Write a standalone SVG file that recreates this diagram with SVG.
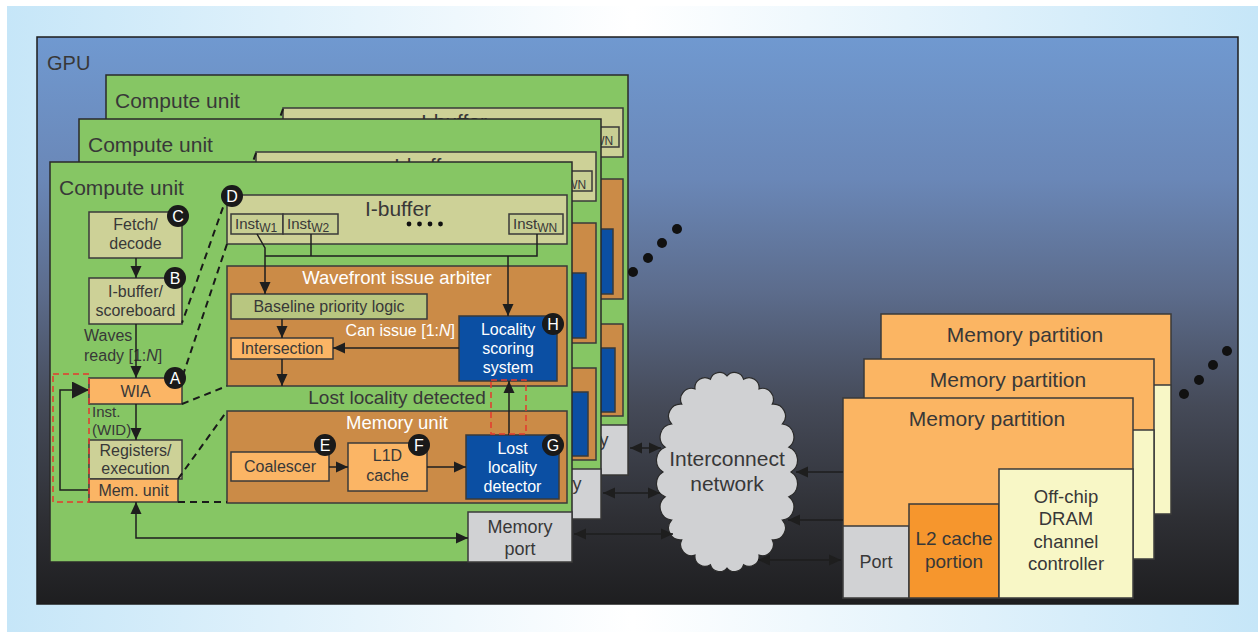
<svg xmlns="http://www.w3.org/2000/svg" xmlns:xlink="http://www.w3.org/1999/xlink" width="1258" height="632" viewBox="0 0 1258 632">
  <defs>
    <linearGradient id="panelGrad" x1="0" y1="0" x2="1" y2="0">
      <stop offset="0" stop-color="#c6e6f8"/>
      <stop offset="0.5" stop-color="#ffffff"/>
      <stop offset="1" stop-color="#c6e6f8"/>
    </linearGradient>
    <linearGradient id="gpuGrad" x1="0" y1="0" x2="0" y2="1">
      <stop offset="0" stop-color="#7099d0"/>
      <stop offset="0.25" stop-color="#6a87b7"/>
      <stop offset="0.45" stop-color="#5c6c8c"/>
      <stop offset="0.65" stop-color="#454a58"/>
      <stop offset="0.85" stop-color="#2e2f34"/>
      <stop offset="1" stop-color="#1e1e20"/>
    </linearGradient>
    <marker id="ah" viewBox="0 0 12 12" refX="12" refY="6" markerWidth="12" markerHeight="12" markerUnits="userSpaceOnUse" orient="auto-start-reverse">
      <path d="M0,0.5 L12,6 L0,11.5 z" fill="#1e1e1e"/>
    </marker>
    <marker id="ahL" viewBox="0 0 10 10" refX="10" refY="5" markerWidth="17" markerHeight="17" markerUnits="userSpaceOnUse" orient="auto">
      <path d="M0,0 L10,5 L0,10 z" fill="#1e1e1e"/>
    </marker>
    <style>
      .tx { font-family: "Liberation Sans", Arial, sans-serif; fill: #383838; }
      .wt { fill: #ffffff; }
      .mid { text-anchor: middle; }
      .box { stroke: #3a3a3a; stroke-width: 1.5; }
      .cu { fill: #86c664; stroke: #2a2a2a; stroke-width: 1.5; }
      .khaki { fill: #cdd197; }
      .inst { fill: #c8cf93; }
      .blg { fill: #b8c680; }
      .brown { fill: #cb8b47; }
      .lor { fill: #fbb565; }
      .blue { fill: #0b4fa3; }
      .gray { fill: #d1d2d4; }
      .mp { fill: #fbb563; }
      .l2 { fill: #f6962d; }
      .dram { fill: #f8f7c6; }
      .ln { fill: none; stroke: #1e1e1e; stroke-width: 1.5; }
      .zoom { fill: none; stroke: #1a1a1a; stroke-width: 2; stroke-dasharray: 7 5; }
      .red { fill: none; stroke: #e53a2e; stroke-width: 1.5; stroke-dasharray: 6 4; }
      .badge { fill: #1a1a1a; }
      .bt { font-family: "Liberation Sans", Arial, sans-serif; font-size: 16px; fill: #ffffff; text-anchor: middle; }
      .dot { fill: #111111; }
    </style>
  </defs>

  <!-- page backdrop -->
  <rect x="0" y="0" width="1258" height="632" fill="#ffffff"/>
  <rect x="7" y="6" width="1251" height="626" fill="url(#panelGrad)"/>

  <!-- GPU enclosure -->
  <g id="gpu">
    <rect x="37" y="37" width="1201" height="567" fill="url(#gpuGrad)" stroke="#1c1c1c" stroke-width="1.5"/>
    <text class="tx" x="47" y="70" font-size="20" fill="#2a2a2a">GPU</text>
  </g>

  <!-- stacked compute units behind the front one -->
  <use xlink:href="#cu-body" href="#cu-body" transform="translate(56,-87)"/>
  <use xlink:href="#cu-body" href="#cu-body" transform="translate(29,-43)"/>

  <!-- front compute unit -->
  <g id="cu-front">
    <g id="cu-body">
      <rect class="cu" x="50" y="162" width="522" height="400"/>
      <text class="tx" x="59" y="195" font-size="21">Compute unit</text>

      <g id="fetch-decode">
        <rect class="box khaki" x="89" y="212" width="93" height="46"/>
        <text class="tx mid" x="135.5" y="230" font-size="16">Fetch/</text>
        <text class="tx mid" x="135.5" y="249" font-size="16">decode</text>
      </g>
      <g id="ibuffer-scoreboard">
        <rect class="box khaki" x="89" y="278" width="93" height="46"/>
        <text class="tx mid" x="135.5" y="297" font-size="16">I-buffer/</text>
        <text class="tx mid" x="135.5" y="316" font-size="16">scoreboard</text>
      </g>
      <text class="tx" x="84" y="341" font-size="16">Waves</text>
      <text class="tx" x="84" y="361" font-size="16">ready [1:<tspan font-style="italic">N</tspan>]</text>
      <g id="wia">
        <rect class="box lor" x="89" y="378" width="93" height="26"/>
        <text class="tx mid" x="135.5" y="397" font-size="16">WIA</text>
      </g>
      <text class="tx" x="92" y="417" font-size="15">Inst.</text>
      <text class="tx" x="92" y="435" font-size="15">(WID)</text>
      <g id="registers">
        <rect class="box khaki" x="89" y="440" width="93" height="39"/>
        <text class="tx mid" x="135.5" y="456" font-size="16">Registers/</text>
        <text class="tx mid" x="135.5" y="474" font-size="16">execution</text>
      </g>
      <g id="mem-unit-small">
        <rect class="box lor" x="89" y="479" width="89" height="23"/>
        <text class="tx mid" x="133.5" y="496" font-size="16">Mem. unit</text>
      </g>

      <g id="ibuffer">
        <rect class="box khaki" x="227" y="195" width="340" height="49"/>
        <text class="tx mid" x="398" y="216" font-size="21">I-buffer</text>
        <rect class="box inst" x="231" y="214" width="52" height="20"/>
        <text class="tx" x="235" y="229" font-size="15">Inst<tspan font-size="12" dy="3">W1</tspan></text>
        <rect class="box inst" x="283" y="214" width="55" height="20"/>
        <text class="tx" x="287" y="229" font-size="15">Inst<tspan font-size="12" dy="3">W2</tspan></text>
        <rect class="box inst" x="509" y="214" width="54" height="20"/>
        <text class="tx" x="513" y="229" font-size="15">Inst<tspan font-size="12" dy="3">WN</tspan></text>
        <circle class="dot" cx="409" cy="224" r="2.4"/>
        <circle class="dot" cx="419.5" cy="224" r="2.4"/>
        <circle class="dot" cx="430" cy="224" r="2.4"/>
        <circle class="dot" cx="440.5" cy="224" r="2.4"/>
      </g>

      <g id="issue-arbiter">
        <rect class="box brown" x="227" y="266" width="340" height="120"/>
        <text class="tx wt mid" x="397" y="284" font-size="18.5">Wavefront issue arbiter</text>
      </g>
      <g id="baseline-priority">
        <rect class="box blg" x="231" y="294" width="196" height="25"/>
        <text class="tx mid" x="329" y="312" font-size="16">Baseline priority logic</text>
      </g>
      <g id="intersection">
        <rect class="box lor" x="231" y="338" width="102" height="21"/>
        <text class="tx mid" x="282" y="354" font-size="16">Intersection</text>
      </g>
      <g id="locality-scoring">
        <rect class="box blue" x="459" y="316" width="98" height="65"/>
        <text class="tx wt mid" x="508" y="335" font-size="16">Locality</text>
        <text class="tx wt mid" x="508" y="354" font-size="16">scoring</text>
        <text class="tx wt mid" x="508" y="373" font-size="16">system</text>
      </g>
      <text class="tx wt" x="455" y="336" font-size="16" text-anchor="end">Can issue [1:<tspan font-style="italic">N</tspan>]</text>

      <text class="tx mid" x="397" y="404" font-size="19">Lost locality detected</text>

      <g id="memory-unit">
        <rect class="box brown" x="227" y="411" width="340" height="92"/>
        <text class="tx wt mid" x="397" y="429" font-size="18.5">Memory unit</text>
      </g>
      <g id="coalescer">
        <rect class="box lor" x="231" y="452" width="98" height="29"/>
        <text class="tx mid" x="280" y="472" font-size="16">Coalescer</text>
      </g>
      <g id="l1d-cache">
        <rect class="box lor" x="348" y="443" width="79" height="48"/>
        <text class="tx mid" x="387.5" y="461" font-size="16">L1D</text>
        <text class="tx mid" x="387.5" y="481" font-size="16">cache</text>
      </g>
      <g id="lost-locality-detector">
        <rect class="box blue" x="466" y="435" width="93" height="64"/>
        <text class="tx wt mid" x="512.5" y="454" font-size="16">Lost</text>
        <text class="tx wt mid" x="512.5" y="473" font-size="16">locality</text>
        <text class="tx wt mid" x="512.5" y="492" font-size="16">detector</text>
      </g>

      <g id="memory-port">
        <rect class="box gray" x="468" y="512" width="104" height="50"/>
        <text class="tx mid" x="520" y="533" font-size="18">Memory</text>
        <text class="tx mid" x="520" y="555" font-size="18">port</text>
      </g>

      <g id="cu-links">
        <!-- pipeline arrows in the left column -->
        <line class="ln" x1="136" y1="258" x2="136" y2="278" marker-end="url(#ah)"/>
        <line class="ln" x1="136" y1="324" x2="136" y2="378" marker-end="url(#ah)"/>
        <line class="ln" x1="136" y1="404" x2="136" y2="440" marker-end="url(#ah)"/>
        <path class="ln" d="M89,490 H60 V390 H89" marker-end="url(#ahL)"/>
        <path class="ln" d="M136,502 V538 H468" marker-start="url(#ah)" marker-end="url(#ah)"/>
        <!-- instruction buffer feeds into the arbiter -->
        <path class="ln" d="M257,234 L265,248 V294" marker-end="url(#ah)"/>
        <path class="ln" d="M265,256 H537 V234"/>
        <line class="ln" x1="311" y1="234" x2="311" y2="256"/>
        <line class="ln" x1="508" y1="256" x2="508" y2="316" marker-end="url(#ah)"/>
        <line class="ln" x1="282" y1="319" x2="282" y2="338" marker-end="url(#ah)"/>
        <line class="ln" x1="282" y1="359" x2="282" y2="386" marker-end="url(#ah)"/>
        <line class="ln" x1="459" y1="348" x2="333" y2="348" marker-end="url(#ah)"/>
        <line class="ln" x1="509" y1="435" x2="509" y2="381" marker-end="url(#ah)"/>
        <line class="ln" x1="329" y1="467" x2="348" y2="467" marker-end="url(#ah)"/>
        <line class="ln" x1="427" y1="467" x2="466" y2="467" marker-end="url(#ah)"/>
        <!-- expansion guides -->
        <line class="zoom" x1="227" y1="196" x2="182" y2="323"/>
        <line class="zoom" x1="227" y1="244" x2="182" y2="378"/>
        <line class="zoom" x1="182" y1="404" x2="227" y2="386"/>
        <line class="zoom" x1="178" y1="479" x2="227" y2="411"/>
        <line class="zoom" x1="178" y1="502" x2="227" y2="502"/>
        <!-- highlighted new paths -->
        <rect class="red" x="53" y="374" width="36" height="128"/>
        <rect class="red" x="491" y="380" width="35" height="54"/>
      </g>
    </g>

    <g id="badges">
      <circle class="badge" cx="232" cy="196" r="11"/><text class="bt" x="232" y="202">D</text>
      <circle class="badge" cx="178" cy="216" r="11"/><text class="bt" x="178" y="222">C</text>
      <circle class="badge" cx="175" cy="278" r="11"/><text class="bt" x="175" y="284">B</text>
      <circle class="badge" cx="175" cy="378" r="11"/><text class="bt" x="175" y="384">A</text>
      <circle class="badge" cx="553" cy="324" r="11"/><text class="bt" x="553" y="330">H</text>
      <circle class="badge" cx="325" cy="445" r="11"/><text class="bt" x="325" y="451">E</text>
      <circle class="badge" cx="419" cy="445" r="11"/><text class="bt" x="419" y="451">F</text>
      <circle class="badge" cx="553" cy="445" r="11"/><text class="bt" x="553" y="451">G</text>
    </g>
  </g>

  <!-- more compute units -->
  <g id="cu-more">
    <circle class="dot" cx="633" cy="272" r="5"/>
    <circle class="dot" cx="648" cy="258" r="5"/>
    <circle class="dot" cx="662" cy="243" r="5"/>
    <circle class="dot" cx="677" cy="229" r="5"/>
  </g>

  <!-- interconnect -->
  <g id="interconnect">
    <path d="M791,472 A14,14 0 0 1 788.8,496.8 A13,13 0 0 1 782.4,520 A12,12 0 0 1 772.3,539.9 A11,11 0 0 1 759,555.1 A10,10 0 0 1 743.6,564.7 A9.5,9.5 0 0 1 727,568 A9.5,9.5 0 0 1 710.4,564.7 A10,10 0 0 1 695,555.1 A11,11 0 0 1 681.7,539.9 A12,12 0 0 1 671.6,520 A13,13 0 0 1 665.2,496.8 A14,14 0 0 1 663,472 A14,14 0 0 1 665.2,447.2 A13,13 0 0 1 671.6,424 A12,12 0 0 1 681.7,404.1 A11,11 0 0 1 695,388.9 A10,10 0 0 1 710.4,379.3 A9.5,9.5 0 0 1 727,376 A9.5,9.5 0 0 1 743.6,379.3 A10,10 0 0 1 759,388.9 A11,11 0 0 1 772.3,404.1 A12,12 0 0 1 782.4,424 A13,13 0 0 1 788.8,447.2 A14,14 0 0 1 791,472 Z" fill="#d0d1d3" stroke="#2a2a2a" stroke-width="1.2"/>
    <text class="tx mid" x="727" y="466" font-size="21">Interconnect</text>
    <text class="tx mid" x="727" y="491" font-size="21">network</text>
  </g>

  <!-- stacked memory partitions -->
  <use xlink:href="#mp-body" href="#mp-body" transform="translate(38,-84)"/>
  <use xlink:href="#mp-body" href="#mp-body" transform="translate(21,-39)"/>
  <g id="memory-partition">
    <g id="mp-body">
      <rect class="box mp" x="843" y="398" width="290" height="200"/>
      <text class="tx mid" x="987" y="426" font-size="21">Memory partition</text>
      <g id="mp-port">
        <rect class="box gray" x="843" y="526" width="66" height="72"/>
        <text class="tx mid" x="876" y="568" font-size="18">Port</text>
      </g>
      <g id="l2-cache">
        <rect class="box l2" x="909" y="504" width="90" height="94"/>
        <text class="tx mid" x="954" y="545" font-size="19">L2 cache</text>
        <text class="tx mid" x="954" y="568" font-size="19">portion</text>
      </g>
      <g id="dram-controller">
        <rect class="box dram" x="999" y="469" width="134" height="129"/>
        <text class="tx mid" x="1066" y="503" font-size="18.5">Off-chip</text>
        <text class="tx mid" x="1066" y="525" font-size="18.5">DRAM</text>
        <text class="tx mid" x="1066" y="548" font-size="18.5">channel</text>
        <text class="tx mid" x="1066" y="570" font-size="18.5">controller</text>
      </g>
    </g>
  </g>

  <!-- more memory partitions -->
  <g id="mp-more">
    <circle class="dot" cx="1184" cy="394" r="5"/>
    <circle class="dot" cx="1199" cy="380" r="5"/>
    <circle class="dot" cx="1213" cy="365" r="5"/>
    <circle class="dot" cx="1227" cy="351" r="5"/>
  </g>

  <!-- links between compute units, network and memory -->
  <g id="connectors">
    <line class="ln" x1="630" y1="448" x2="661" y2="448" marker-start="url(#ah)" marker-end="url(#ah)"/>
    <line class="ln" x1="603" y1="493" x2="660" y2="493" marker-start="url(#ah)" marker-end="url(#ah)"/>
    <line class="ln" x1="574" y1="534" x2="673" y2="534" marker-start="url(#ah)" marker-end="url(#ah)"/>
    <line class="ln" x1="843" y1="472" x2="796" y2="472" marker-end="url(#ah)"/>
    <line class="ln" x1="843" y1="520" x2="788" y2="520" marker-end="url(#ah)"/>
    <line class="ln" x1="758" y1="560" x2="841" y2="560" marker-start="url(#ah)" marker-end="url(#ah)"/>
  </g>
</svg>
